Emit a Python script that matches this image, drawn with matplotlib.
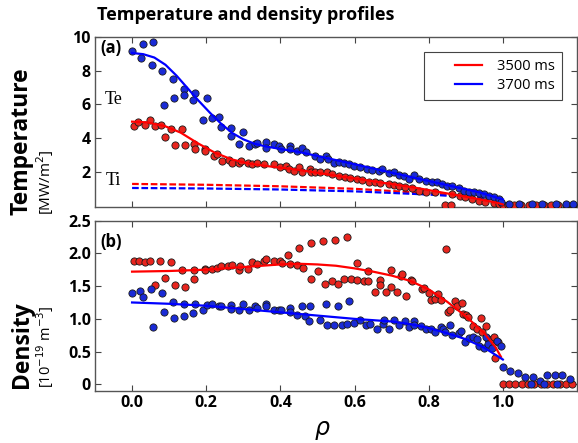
from matplotlib import pyplot as plt
import numpy as np

# Te points, 3500 ms (red) and 3700 ms (blue)
te_red_x = [0.005, 0.017, 0.034, 0.048, 0.062, 0.077, 0.088, 0.106, 0.117, 0.135, 0.144, 0.166, 0.171,
            0.196, 0.198, 0.22, 0.229, 0.243, 0.261, 0.27, 0.288, 0.293, 0.313, 0.323, 0.337, 0.355,
            0.382, 0.40, 0.414, 0.422, 0.436, 0.45, 0.458, 0.481, 0.483, 0.494, 0.508, 0.526, 0.54,
            0.557, 0.575, 0.589, 0.607, 0.62, 0.638, 0.656, 0.67, 0.692, 0.706, 0.72, 0.737, 0.755,
            0.774, 0.792, 0.818, 0.845, 0.859, 0.863, 0.885, 0.899, 0.917, 0.935, 0.953, 0.976, 0.99,
            1.0, 1.015, 1.03, 1.05, 1.07, 1.09, 1.11, 1.13, 1.15, 1.17, 1.19]
te_red_y = [4.71, 4.95, 4.77, 5.05, 4.71, 4.77, 4.08, 4.56, 3.59, 4.52, 3.59, 3.63, 3.33,
            3.37, 3.23, 2.94, 3.04, 2.64, 2.68, 2.50, 2.54, 2.64, 2.54, 2.44, 2.54, 2.44,
            2.44, 2.30, 2.34, 2.15, 2.05, 2.25, 1.95, 2.15, 1.95, 1.95, 1.99, 1.95, 1.85,
            1.75, 1.66, 1.60, 1.56, 1.50, 1.40, 1.36, 1.30, 1.26, 1.20, 1.16, 1.06, 1.01,
            0.87, 0.81, 0.77, 0.02, 0.02, 0.67, 0.57, 0.47, 0.37, 0.28, 0.22, 0.12, 0.05,
            0.02, 0.02, 0.02, 0.02, 0.02, 0.02, 0.02, 0.02, 0.02, 0.02, 0.02]
te_blue_x = [0.0, 0.023, 0.029, 0.053, 0.056, 0.082, 0.085, 0.11, 0.112, 0.141, 0.141, 0.165, 0.171,
             0.192, 0.203, 0.216, 0.234, 0.241, 0.267, 0.267, 0.289, 0.298, 0.315, 0.331, 0.336,
             0.36, 0.36, 0.382, 0.395, 0.403, 0.427, 0.427, 0.444, 0.458, 0.47, 0.493, 0.508, 0.523,
             0.529, 0.544, 0.557, 0.571, 0.585, 0.598, 0.616, 0.634, 0.647, 0.666, 0.674, 0.692,
             0.706, 0.72, 0.733, 0.747, 0.76, 0.774, 0.792, 0.81, 0.822, 0.836, 0.849, 0.863, 0.881,
             0.894, 0.908, 0.922, 0.935, 0.949, 0.962, 0.976, 0.99, 0.996,
             1.016, 1.043, 1.078, 1.105, 1.143, 1.17, 1.19]
te_blue_y = [9.15, 8.76, 9.59, 8.36, 9.68, 7.97, 5.94, 7.53, 6.39, 6.94, 6.55, 6.23, 6.69,
             5.05, 6.35, 5.21, 5.24, 4.67, 4.57, 4.12, 3.63, 4.38, 3.53, 3.63, 3.69,
             3.76, 3.43, 3.63, 3.53, 3.37, 3.53, 3.37, 3.23, 3.43, 3.14, 2.94, 2.78, 2.94,
             2.74, 2.54, 2.60, 2.49, 2.44, 2.34, 2.25, 2.15, 2.11, 2.05, 2.15, 1.91,
             1.95, 1.79, 1.75, 1.56, 1.79, 1.56, 1.46, 1.36, 1.40, 1.26, 1.16, 1.16, 1.01,
             0.87, 0.81, 0.81, 0.71, 0.67, 0.57, 0.47, 0.37, 0.18,
             0.1, 0.1, 0.1, 0.1, 0.1, 0.1, 0.1]

# Te fits
te_fit_red_x = [0.0, 0.04, 0.088, 0.131, 0.177, 0.222, 0.267, 0.312, 0.357, 0.403, 0.447, 0.58, 0.76, 0.935, 0.99, 1.0]
te_fit_red_y = [4.97, 4.93, 4.71, 4.32, 3.69, 3.14, 2.74, 2.49, 2.35, 2.23, 2.11, 1.66, 1.06, 0.37, 0.12, 0.05]
te_fit_blue_x = [0.0, 0.03, 0.06, 0.09, 0.12, 0.15, 0.18, 0.21, 0.24, 0.27, 0.30, 0.33, 0.36, 0.40,
                 0.45, 0.58, 0.76, 0.935, 1.0]
te_fit_blue_y = [9.05, 8.98, 8.78, 8.35, 7.70, 6.95, 6.20, 5.50, 4.85, 4.30, 3.92, 3.66, 3.50, 3.35,
                 3.17, 2.54, 1.64, 0.78, 0.35]

# Ti profiles (dashed)
ti_x = [0.0, 0.2, 0.4, 0.6, 0.8, 0.9, 1.0]
ti_red = [1.27, 1.22, 1.13, 0.98, 0.72, 0.55, 0.30]
ti_blue = [1.03, 1.00, 0.94, 0.83, 0.64, 0.50, 0.30]

# Density points
ne_red_x = [0.005, 0.018, 0.034, 0.048, 0.062, 0.076, 0.088, 0.106, 0.116, 0.135, 0.142, 0.166, 0.168,
            0.196, 0.198, 0.216, 0.229, 0.241, 0.26, 0.27, 0.288, 0.29, 0.313, 0.323, 0.337, 0.355,
            0.36, 0.382, 0.40, 0.405, 0.42, 0.427, 0.445, 0.45, 0.462, 0.483, 0.483, 0.502, 0.515,
            0.52, 0.538, 0.547, 0.556, 0.572, 0.58, 0.59, 0.607, 0.607, 0.625, 0.637, 0.637, 0.655,
            0.668, 0.67, 0.684, 0.697, 0.698, 0.715, 0.724, 0.729, 0.74, 0.751, 0.755, 0.781, 0.787,
            0.80, 0.807, 0.818, 0.825, 0.832, 0.848, 0.853, 0.858, 0.87, 0.876, 0.889, 0.893, 0.90,
            0.907, 0.919, 0.93, 0.94, 0.944, 0.954, 0.96, 0.966, 0.975, 0.98, 0.987,
            1.0, 1.017, 1.034, 1.051, 1.068, 1.085, 1.102, 1.119, 1.136, 1.153, 1.17, 1.187]
ne_red_y = [1.88, 1.89, 1.86, 1.89, 1.52, 1.89, 1.63, 1.86, 1.52, 1.74, 1.49, 1.74, 1.61,
            1.76, 1.74, 1.76, 1.77, 1.80, 1.80, 1.82, 1.75, 1.80, 1.76, 1.86, 1.84, 1.88,
            1.92, 1.88, 1.89, 1.85, 1.97, 1.84, 1.82, 2.08, 1.78, 2.15, 1.61, 1.73, 2.19,
            1.53, 1.57, 2.21, 1.53, 1.61, 2.25, 1.61, 1.85, 1.60, 1.57, 1.73, 1.57, 1.41,
            1.60, 1.52, 1.41, 1.75, 1.48, 1.41, 1.66, 1.69, 1.35, 1.60, 1.57, 1.45, 1.47,
            1.39, 1.29, 1.30, 1.38, 1.29, 2.06, 1.10, 1.13, 1.27, 1.19, 1.24, 1.07, 1.06,
            1.03, 0.89, 0.85, 1.02, 0.80, 0.89, 0.70, 0.68, 0.72, 0.41, 0.64,
            0.0, 0.0, 0.0, 0.0, 0.0, 0.0, 0.0, 0.0, 0.0, 0.0, 0.0, 0.0]
ne_blue_x = [0.0, 0.022, 0.029, 0.052, 0.056, 0.082, 0.085, 0.11, 0.112, 0.14, 0.14, 0.165, 0.171,
             0.192, 0.203, 0.216, 0.234, 0.241, 0.267, 0.267, 0.289, 0.298, 0.315, 0.331, 0.336,
             0.36, 0.36, 0.382, 0.395, 0.403, 0.427, 0.427, 0.444, 0.458, 0.466, 0.478, 0.48, 0.508,
             0.523, 0.525, 0.544, 0.556, 0.567, 0.58, 0.584, 0.598, 0.616, 0.632, 0.643, 0.661,
             0.678, 0.68, 0.692, 0.706, 0.72, 0.736, 0.747, 0.76, 0.76, 0.78, 0.792, 0.805, 0.817,
             0.832, 0.838, 0.845, 0.858, 0.863, 0.881, 0.888, 0.899, 0.908, 0.919, 0.93, 0.936,
             0.948, 0.954, 0.96, 0.971, 0.984, 0.996,
             1.0, 1.02, 1.04, 1.06, 1.08, 1.1, 1.12, 1.14, 1.16, 1.18, 1.075, 1.11, 1.145]
ne_blue_y = [1.40, 1.43, 1.33, 1.46, 0.88, 1.39, 1.11, 1.26, 1.02, 1.23, 1.04, 1.09, 1.22,
             1.14, 1.21, 1.22, 1.19, 1.19, 1.21, 1.15, 1.14, 1.22, 1.14, 1.19, 1.16,
             1.23, 1.19, 1.14, 1.13, 1.13, 1.17, 1.11, 1.06, 1.20, 1.04, 0.97, 1.20, 0.98,
             1.23, 0.90, 0.90, 1.19, 0.91, 0.92, 1.27, 0.93, 0.99, 0.91, 0.92, 0.85,
             0.92, 0.99, 0.84, 0.99, 0.91, 0.96, 0.87, 0.96, 0.91, 0.89, 0.84, 0.85, 0.80,
             0.87, 0.84, 0.80, 0.91, 0.75, 0.79, 0.82, 0.65, 0.71, 0.72, 0.69, 0.58,
             0.56, 0.72, 0.61, 0.55, 0.66, 0.58,
             0.26, 0.21, 0.17, 0.12, 0.11, 0.05, 0.14, 0.15, 0.14, 0.08, 0.0, 0.0, 0.0]

# Density fits
ne_fit_red_x = [0.0, 0.1, 0.2, 0.3, 0.4, 0.45, 0.5, 0.55, 0.6, 0.65, 0.7, 0.75, 0.8, 0.85, 0.9, 0.95, 0.98, 0.995]
ne_fit_red_y = [1.72, 1.73, 1.75, 1.79, 1.83, 1.84, 1.83, 1.81, 1.77, 1.72, 1.66, 1.58, 1.45, 1.26, 1.04, 0.78, 0.57, 0.42]
ne_fit_blue_x = [0.0, 0.1, 0.2, 0.3, 0.4, 0.5, 0.6, 0.7, 0.75, 0.8, 0.85, 0.9, 0.95, 1.0]
ne_fit_blue_y = [1.25, 1.23, 1.20, 1.15, 1.10, 1.05, 1.00, 0.96, 0.92, 0.86, 0.78, 0.69, 0.56, 0.38]

labels = ['3500 ms', '3700 ms']
red = '#ff0000'
blue = '#0000ff'
red_pt = '#e8251e'
blue_pt = '#1a2bd6'

plt.rcParams['font.family'] = ['Open Sans', 'DejaVu Sans']
W, H = 578, 443
fig = plt.figure(figsize=(W / 100, H / 100), dpi=100)

ax1 = fig.add_axes([95 / W, 1 - 207 / H, 482 / W, 170 / H])
ax2 = fig.add_axes([95 / W, 1 - 391 / H, 482 / W, 170.5 / H])

mk = dict(ls='none', marker='o', ms=5.2, mec='#1a1a1a', mew=0.6, zorder=3)

# top panel
ax1.plot(ti_x, ti_red, color=red, ls=(0, (3, 1.2)), lw=1.6, zorder=2)
ax1.plot(ti_x, ti_blue, color=blue, ls=(0, (3, 1.2)), lw=1.6, zorder=2)
ax1.plot(te_red_x, te_red_y, mfc=red_pt, **mk)
ax1.plot(te_blue_x, te_blue_y, mfc=blue_pt, **mk)
ax1.plot(te_fit_red_x, te_fit_red_y, color=red, lw=1.6, zorder=4, label=labels[0])
ax1.plot(te_fit_blue_x, te_fit_blue_y, color=blue, lw=1.6, zorder=4, label=labels[1])
ax1.set_ylim(-0.1, 10)
ax1.set_yticks([2, 4, 6, 8, 10])
ax1.set_yticklabels(['2', '4', '6', '8', '10'])

# bottom panel
ax2.plot(ne_red_x, ne_red_y, mfc=red_pt, **mk)
ax2.plot(ne_blue_x, ne_blue_y, mfc=blue_pt, **mk)
ax2.plot(ne_fit_red_x, ne_fit_red_y, color=red, lw=1.6, zorder=4)
ax2.plot(ne_fit_blue_x, ne_fit_blue_y, color=blue, lw=1.6, zorder=4)
ax2.set_ylim(-0.1, 2.5)
ax2.set_yticks([0, 0.5, 1.0, 1.5, 2.0, 2.5])
ax2.set_yticklabels(['0', '0.5', '1.0', '1.5', '2.0', '2.5'])

for ax in (ax1, ax2):
    ax.set_xlim(-0.1, 1.2)
    ax.set_xticks([0.0, 0.2, 0.4, 0.6, 0.8, 1.0])
    ax.tick_params(direction='in', length=4, width=0.8, top=True, right=True,
                   labelsize=11.5, color='#444444', pad=3)
    for lab in ax.get_yticklabels() + ax.get_xticklabels():
        lab.set_fontweight('bold')
    for s in ax.spines.values():
        s.set_color('#555555')
        s.set_linewidth(1.0)
ax1.set_xticklabels([])
ax2.set_xticklabels(['0.0', '0.2', '0.4', '0.6', '0.8', '1.0'], fontweight='bold')

leg = ax1.legend(loc='upper right', bbox_to_anchor=(0.969, 0.912), fontsize=10.5,
                 fancybox=False, framealpha=1, edgecolor='#444444', handlelength=3.5,
                 handletextpad=1.0, borderpad=0.5, labelspacing=0.25, borderaxespad=0)
leg.get_frame().set_linewidth(0.8)
# keep only the right part of each legend line, leaving a wide left margin
for ln in leg.get_lines():
    xd = np.asarray(ln.get_xdata(), dtype=float)
    if len(xd) > 1:
        ln.set_xdata(np.linspace(xd[-1] - 0.53 * (xd[-1] - xd[0]), xd[-1], len(xd)))

ax1.text(-0.085, 9.35, '(a)', fontsize=12, fontweight='bold', va='center', ha='left')
ax2.text(-0.085, 2.17, '(b)', fontsize=12, fontweight='bold', va='center', ha='left')
ax1.text(-0.05, 6.3, 'Te', family='Liberation Serif', fontsize=13, va='center', ha='center')
ax1.text(-0.05, 1.45, 'Ti', family='Liberation Serif', fontsize=13, va='center', ha='center')

fig.text(97 / W, 1 - 15 / H, 'Temperature and density profiles', fontsize=13,
         fontweight='bold', ha='left', va='center')
fig.text(22 / W, 1 - 215 / H, 'Temperature', fontsize=16.5, fontweight='bold',
         rotation=90, ha='center', va='bottom')
fig.text(45 / W, 1 - 215 / H, '[MW/m$^2$]', fontsize=11, rotation=90, ha='center', va='bottom')
fig.text(22 / W, 1 - 388 / H, 'Density', fontsize=16.5, fontweight='bold',
         rotation=90, ha='center', va='bottom')
fig.text(45 / W, 1 - 388 / H, '[10$^{-19}$ m$^{-3}$]', fontsize=10.5, rotation=90, ha='center', va='bottom')
fig.text(322 / W, 1 - 430 / H, r'$\rho$', fontsize=17, ha='center', va='center')

plt.savefig('out.png', dpi=100)
